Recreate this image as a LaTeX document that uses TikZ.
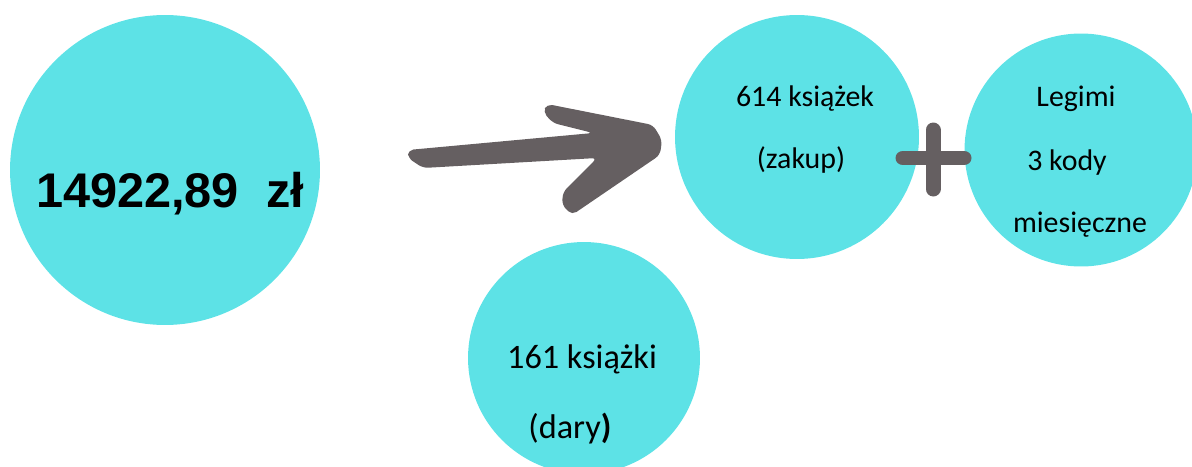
\documentclass[tikz,border=0pt]{standalone}
\usepackage{fontspec}
\setmainfont{Carlito}
\newfontfamily\arialfont{Liberation Sans}
\definecolor{bubble}{HTML}{5DE2E6}
\definecolor{brush}{HTML}{655F61}

\begin{document}
\begin{tikzpicture}[x=0.02cm,y=-0.02cm,
  bubble/.style={circle,fill=bubble,inner sep=0pt},
  label/.style={anchor=base,inner sep=0pt,text=black}]
\useasboundingbox (0,0) rectangle (1192,466);
%%%%%%%%%%%%%%%%%%%%%%%%%%%%%%%%
%% circles
%%%%%%%%%%%%%%%%%%%%%%%%%%%%%%%%
\node[bubble,minimum size=6.2cm]  (kwota)  at (165,170) {};
\node[bubble,minimum size=4.88cm] (zakup)  at (797,137) {};
\node[bubble,minimum size=4.66cm] (legimi) at (1081,150) {};
\node[bubble,minimum size=4.64cm] (dary)   at (584,358) {};
%
\node[label] (t1) at (170,207) {\arialfont\fontsize{27.7}{30}\selectfont\bfseries 14922,89~~zł};
%
\fontsize{17}{20}\selectfont
\node[label] (t2) at (805,107) {614 książek};
\node[label] (t3) at (801,168) {(zakup)};
\node[label] (t4) at (1076,107) {Legimi};
\node[label] (t5) at (1067,170) {3 kody};
\node[label] (t6) at (1080,232) {miesięczne};
%
\fontsize{19.5}{22}\selectfont
\node[label] (t7) at (582,368) {161 książki};
\node[label] (t8) at (570,438) {(dary\textbf{)}};
%%%%%%%%%%%%%%%%%%%%%%%%%%%%%%%%
%% arrow and plus
%%%%%%%%%%%%%%%%%%%%%%%%%%%%%%%%
\fill[brush,rounded corners=3pt] (408,150) -- (593,133) -- (553,123) -- (543,112)
  -- (547,104) -- (653,125) -- (662,140) -- (660,155) -- (572,215) -- (562,205)
  -- (563,192) -- (597,158) -- (423,168) -- (408,158) -- cycle;
%
\draw[brush,line width=0.3cm,line cap=round] (903,158) -- (964,158);
\draw[brush,line width=0.3cm,line cap=round] (933,130) -- (933,189);
\end{tikzpicture}
\end{document}
